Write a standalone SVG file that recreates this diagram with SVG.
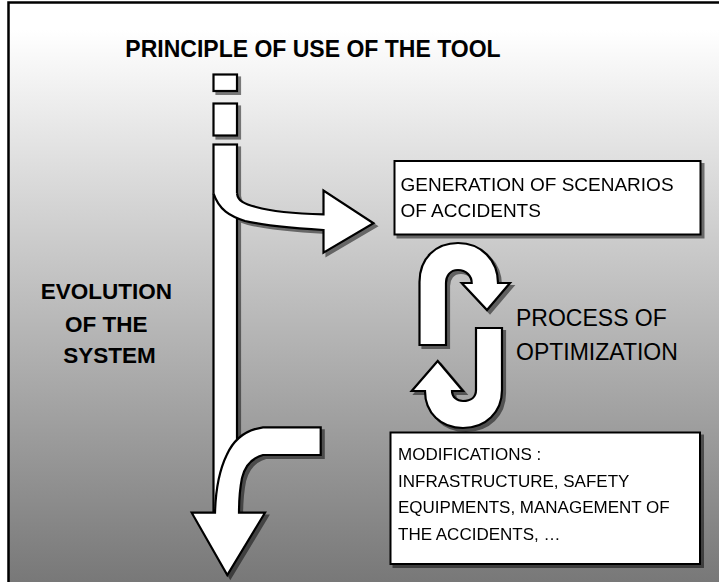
<svg xmlns="http://www.w3.org/2000/svg" width="719" height="582" viewBox="0 0 719 582">
  <defs>
    <linearGradient id="bg" gradientUnits="userSpaceOnUse" x1="0" y1="30" x2="0" y2="582">
      <stop offset="0" stop-color="#ffffff"/>
      <stop offset="1" stop-color="#787878"/>
    </linearGradient>
    <filter id="shadow" x="-20%" y="-20%" width="140%" height="140%">
      <feGaussianBlur in="SourceAlpha" stdDeviation="0.7"/>
      <feOffset dx="3" dy="3"/>
      <feComponentTransfer>
        <feFuncA type="linear" slope="0.5"/>
      </feComponentTransfer>
      <feMerge>
        <feMergeNode/>
        <feMergeNode in="SourceGraphic"/>
      </feMerge>
    </filter>
    <style>
      .shape { fill: #ffffff; stroke: #000000; stroke-width: 2.2; stroke-linejoin: miter; }
      .box { fill: #ffffff; stroke: #000000; stroke-width: 2; }
      .bold { font-family: "Liberation Sans", Arial, sans-serif; font-weight: bold; fill: #000000; }
      .plain { font-family: "Liberation Sans", Arial, sans-serif; fill: #000000; }
    </style>
  </defs>

  <!-- framed background -->
  <rect x="0" y="0" width="719" height="582" fill="#ffffff"/>
  <rect x="8.5" y="2.5" width="715" height="590" fill="url(#bg)" stroke="#000000" stroke-width="2.5"/>

  <g id="title">
    <text class="bold" x="313" y="57" font-size="23" text-anchor="middle">PRINCIPLE OF USE OF THE TOOL</text>
  </g>

  <g id="evolution-label">
    <text class="bold" font-size="22.5" text-anchor="middle">
      <tspan x="109.5" y="298.5">EVOLUTION</tspan>
      <tspan x="109.5" y="331.5">OF THE</tspan>
      <tspan x="109.5" y="362.5">SYSTEM</tspan>
    </text>
  </g>

  <g id="stage-1" filter="url(#shadow)">
    <rect class="shape" x="213.5" y="74.5" width="23.5" height="16.5"/>
  </g>
  <g id="stage-2" filter="url(#shadow)">
    <rect class="shape" x="213.5" y="103.5" width="23.5" height="32"/>
  </g>

  <g id="scenarios" filter="url(#shadow)">
    <rect class="box" x="394.5" y="161" width="306" height="73.5"/>
    <text class="plain" font-size="19">
      <tspan x="400.5" y="190.5">GENERATION OF SCENARIOS</tspan>
      <tspan x="400.5" y="216.5">OF ACCIDENTS</tspan>
    </text>
  </g>

  <g id="process-label">
    <text class="plain" font-size="23">
      <tspan x="516" y="326">PROCESS OF</tspan>
      <tspan x="516" y="360">OPTIMIZATION</tspan>
    </text>
  </g>

  <g id="modifications" filter="url(#shadow)">
    <rect class="box" x="390.5" y="432.5" width="309.5" height="131.5"/>
    <text class="plain" font-size="17">
      <tspan x="398" y="460">MODIFICATIONS :</tspan>
      <tspan x="398" y="486.5">INFRASTRUCTURE, SAFETY</tspan>
      <tspan x="398" y="513">EQUIPMENTS, MANAGEMENT OF</tspan>
      <tspan x="398" y="539.5">THE ACCIDENTS, …</tspan>
    </text>
  </g>

  <g id="connectors">
    <!-- timeline with its two branches -->
    <g id="timeline" filter="url(#shadow)">
      <rect class="shape" x="213.5" y="144.5" width="23.5" height="369"/>
      <!-- branch towards the scenario box (open path: tail edge is not stroked) -->
      <path class="shape" d="M 237 193.5 C 238 201, 244 204, 256 207 C 270 211, 290 213.5, 323.5 214.3 L 323.5 190.5 L 373.5 223.3 L 323.5 252.7 L 323.5 230 C 290 228, 262 225, 245 221 C 230 216, 219 210, 213.5 193.3"/>
      <!-- branch coming back from the modifications, ending in the arrowhead -->
      <path class="shape" d="M 263 427.3 L 320.7 427.3 L 320.7 455 L 263 455 C 252 458, 245 466, 242 478 C 240 488, 239 500, 239 512.7 L 265 512.7 L 227.3 575 L 191.7 512.7 L 215 512.7 C 215.5 495, 218 473, 226.7 455 C 233 441, 244 430, 263 427.3 Z"/>
    </g>
    <!-- optimization loop: upper turn -->
    <g id="loop-down" filter="url(#shadow)">
      <path class="shape" d="M 419.5 345 L 419.5 282 C 419.5 258, 436 243, 458 243 C 481 243, 498 260, 498 283 L 510 283 L 487 310 L 461.7 283 L 471.7 283 C 471.7 276, 466 270, 458 270 C 450 270, 446 276, 446 283 L 446 345 Z"/>
    </g>
    <!-- optimization loop: lower turn -->
    <g id="loop-up" filter="url(#shadow)">
      <path class="shape" d="M 502 328 L 502 390 C 502 412, 486 428, 463 428 C 441 428, 425 413, 425 391 L 411.7 391 L 437.7 361 L 463 391 L 452 391 C 452 397, 457 401, 463 401 C 471 401, 476 397, 476 390 L 476 328 Z"/>
    </g>
  </g>
</svg>
